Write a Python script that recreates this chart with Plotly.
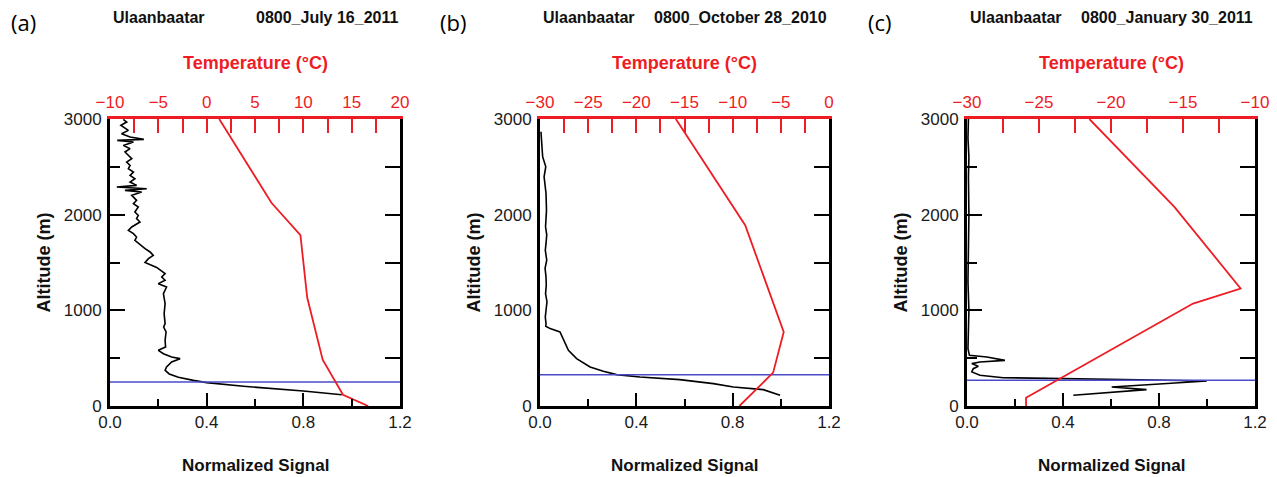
import plotly.graph_objects as go

# ---------------- data ----------------
station = "Ulaanbaatar"
dates = ["0800_July 16_2011", "0800_October 28_2010", "0800_January 30_2011"]
panel_tags = ["(a)", "(b)", "(c)"]

# panel (a) normalized lidar signal
sig_a = [0.959, 0.80, 0.552, 0.40, 0.345, 0.283, 0.245, 0.228, 0.234, 0.255, 0.29, 0.255, 0.221,
         0.20, 0.23, 0.228, 0.232, 0.222, 0.228, 0.224, 0.228, 0.221, 0.234, 0.20, 0.228, 0.214,
         0.228, 0.193, 0.145, 0.159, 0.179, 0.166, 0.145, 0.117, 0.103, 0.110, 0.097, 0.076, 0.090,
         0.124, 0.110, 0.117, 0.103, 0.117, 0.097, 0.110, 0.090, 0.131, 0.062, 0.152, 0.028, 0.110,
         0.083, 0.103, 0.083, 0.097, 0.076, 0.083, 0.069, 0.090, 0.076, 0.062, 0.083, 0.055, 0.097,
         0.030, 0.140, 0.083, 0.048, 0.076, 0.045, 0.069, 0.055]
alt_sig_a = [118, 157, 206, 244, 268, 300, 335, 373, 408, 460, 495, 512, 547,
             582, 617, 687, 774, 826, 861, 965, 1070, 1174, 1244, 1279, 1314, 1348,
             1383, 1448, 1500, 1540, 1575, 1610, 1644, 1697, 1731, 1766, 1801, 1836, 1871,
             1923, 1958, 1993, 2028, 2080, 2115, 2150, 2202, 2237, 2254, 2271, 2289, 2306,
             2341, 2376, 2411, 2446, 2481, 2515, 2550, 2585, 2620, 2655, 2690, 2724, 2759,
             2777, 2787, 2812, 2846, 2881, 2933, 2968, 2995]
temp_a = [16.7, 14.1, 12.0, 10.4, 9.7, 6.7, 1.3]
alt_temp_a = [0, 118, 485, 1134, 1786, 2124, 3000]

# panel (b)
sig_b = [0.997, 0.927, 0.803, 0.72, 0.58, 0.415, 0.318, 0.263, 0.208, 0.152, 0.118, 0.10, 0.083,
         0.042, 0.024, 0.025, 0.022, 0.025, 0.029, 0.023, 0.026, 0.025, 0.021, 0.028, 0.022, 0.025,
         0.028, 0.023, 0.024, 0.027, 0.025, 0.017, 0.024, 0.011, 0.004]
alt_sig_b = [112, 171, 199, 234, 276, 303, 328, 363, 408, 495, 582, 687, 774,
             809, 834, 861, 930, 1001, 1090, 1175, 1260, 1350, 1440, 1524, 1629, 1699,
             1790, 1873, 1960, 2047, 2222, 2396, 2501, 2606, 2867]
temp_b = [-9.3, -5.8, -4.7, -8.7, -15.9]
alt_temp_b = [0, 349, 774, 1890, 3000]

# panel (c)
sig_c = [0.443, 0.748, 0.603, 0.999, 0.72, 0.387, 0.151, 0.054, 0.020, 0.026, 0.047, 0.020,
         0.054, 0.158, 0.083, 0.010, 0.004, 0.006, 0.008, 0.004, 0.006, 0.008, 0.006, 0.008,
         0.004, 0.006]
alt_sig_c = [112, 171, 199, 262, 275, 286, 296, 321, 356, 390, 415, 443,
             460, 477, 512, 530, 600, 800, 1000, 1300, 1600, 2000, 2400, 2600,
             2800, 3000]
temp_c = [-25.9, -25.9, -14.3, -11.0, -15.6, -21.5]
alt_temp_c = [0, 87, 1071, 1228, 2082, 3000]

pbl_heights = [251, 327, 268]

signal_range = [0, 1.2]
alt_range = [0, 3000]
temp_ranges = [[-10, 20], [-30, 0], [-30, -10]]
left_ticks_shown = [True, False, True]

signals = [(sig_a, alt_sig_a), (sig_b, alt_sig_b), (sig_c, alt_sig_c)]
temps = [(temp_a, alt_temp_a), (temp_b, alt_temp_b), (temp_c, alt_temp_c)]

# ---------------- layout helpers ----------------
W, H = 1277, 477
panel_px = [(110, 400), (540, 829), (967, 1255)]
top_px, bot_px = 119, 406
RED = "#ee1c24"
FONT = "Liberation Sans"

def px_x(p):
    return p / W

def px_y(p):
    return 1 - p / H

fig = go.Figure()
layout = dict(
    template="none",
    width=W, height=H, margin=dict(l=0, r=0, t=0, b=0, pad=0, autoexpand=False),
    paper_bgcolor="white", plot_bgcolor="white", showlegend=False,
    font=dict(family=FONT, size=17, color="#1a1a1a"),
)
annotations = []

for i in range(3):
    xb = "x" if i == 0 else f"x{2*i+1}"
    yl = "y" if i == 0 else f"y{2*i+1}"
    xt = f"x{2*i+2}"
    yr = f"y{2*i+2}"
    kxb = "xaxis" if i == 0 else f"xaxis{2*i+1}"
    kyl = "yaxis" if i == 0 else f"yaxis{2*i+1}"
    kxt = f"xaxis{2*i+2}"
    kyr = f"yaxis{2*i+2}"
    x0, x1 = panel_px[i]
    dom_x = [px_x(x0), px_x(x1)]
    dom_y = [px_y(bot_px), px_y(top_px)]

    s, a = signals[i]
    t, at = temps[i]
    fig.add_trace(go.Scatter(x=s, y=a, mode="lines", xaxis=xb, yaxis=yl,
                             line=dict(color="black", width=1.6), cliponaxis=True))
    fig.add_trace(go.Scatter(x=t, y=at, mode="lines", xaxis=xt, yaxis=yl,
                             line=dict(color=RED, width=1.8)))
    fig.add_trace(go.Scatter(x=signal_range, y=[pbl_heights[i]] * 2, mode="lines",
                             xaxis=xb, yaxis=yr, line=dict(color="#4b4bc8", width=1.5)))

    lt = "inside" if left_ticks_shown[i] else ""
    layout[kxb] = dict(domain=dom_x, anchor=yl, range=signal_range, tick0=0, dtick=0.4,
                       tickformat=".1f", ticks="inside", ticklen=13, tickwidth=2,
                       tickcolor="black", showline=True, linecolor="black", linewidth=3,
                       showgrid=False, zeroline=False, ticklabelstandoff=-1, automargin=False,
                       minor=dict(dtick=0.2, ticklen=7, tickwidth=2, tickcolor="black",
                                  ticks="inside", showgrid=False))
    layout[kyl] = dict(domain=dom_y, anchor=xb, range=alt_range, tick0=0, dtick=1000,
                       ticks=lt, ticklen=15, tickwidth=2, tickcolor="black",
                       showline=True, linecolor="black", linewidth=3, showgrid=False,
                       zeroline=False, ticklabelstandoff=2, automargin=False,
                       minor=dict(dtick=500, ticklen=10, tickwidth=2, tickcolor="black",
                                  ticks=lt, showgrid=False))
    layout[kxt] = dict(overlaying=xb, anchor=yl, side="top", range=temp_ranges[i], tick0=0,
                       dtick=5, ticks="inside", ticklen=14, tickwidth=2, tickcolor=RED,
                       showline=True, linecolor=RED, linewidth=3, showgrid=False,
                       zeroline=False, tickfont=dict(color=RED, size=17),
                       ticklabelstandoff=1, automargin=False,
                       minor=dict(dtick=2.5, ticklen=14, tickwidth=2, tickcolor=RED,
                                  ticks="inside", showgrid=False))
    layout[kyr] = dict(overlaying=yl, anchor=xb, side="right", range=alt_range, tick0=0,
                       dtick=500, ticks="inside", ticklen=15, tickwidth=2,
                       tickcolor="black", showline=True, linecolor="black", linewidth=3,
                       showgrid=False, zeroline=False, showticklabels=False, automargin=False)

    cx = (x0 + x1) / 2
    annotations += [
        dict(text=panel_tags[i], x=px_x(x0 - 87), y=px_y(22), xref="paper", yref="paper",
             xanchor="center", yanchor="middle", showarrow=False,
             font=dict(family="Open Sans", size=22, color="black")),
        dict(text=f"<b>{station}</b>", x=px_x(x0 + 1), y=px_y(18), xref="paper",
             yref="paper", xanchor="left", yanchor="middle", showarrow=False,
             font=dict(size=16, color="#111111")),
        dict(text=f"<b>{dates[i]}</b>", x=px_x(x1), y=px_y(18), xref="paper",
             yref="paper", xanchor="right", yanchor="middle", showarrow=False,
             font=dict(size=16, color="#111111")),
        dict(text="<b>Temperature (°C)</b>", x=px_x(cx), y=px_y(63), xref="paper",
             yref="paper", xanchor="center", yanchor="middle", showarrow=False,
             font=dict(size=18, color=RED)),
        dict(text="<b>Normalized Signal</b>", x=px_x(cx), y=px_y(465), xref="paper",
             yref="paper", xanchor="center", yanchor="middle", showarrow=False,
             font=dict(size=17, color="#111111")),
        dict(text="<b>Altitude (m)</b>", x=px_x(x0 - 67), y=px_y((top_px + bot_px) / 2),
             xref="paper", yref="paper", xanchor="center", yanchor="middle",
             showarrow=False, textangle=-90, font=dict(size=18, color="#111111")),
    ]

layout["annotations"] = annotations
fig.update_layout(**layout)
fig.write_html("out.html")
